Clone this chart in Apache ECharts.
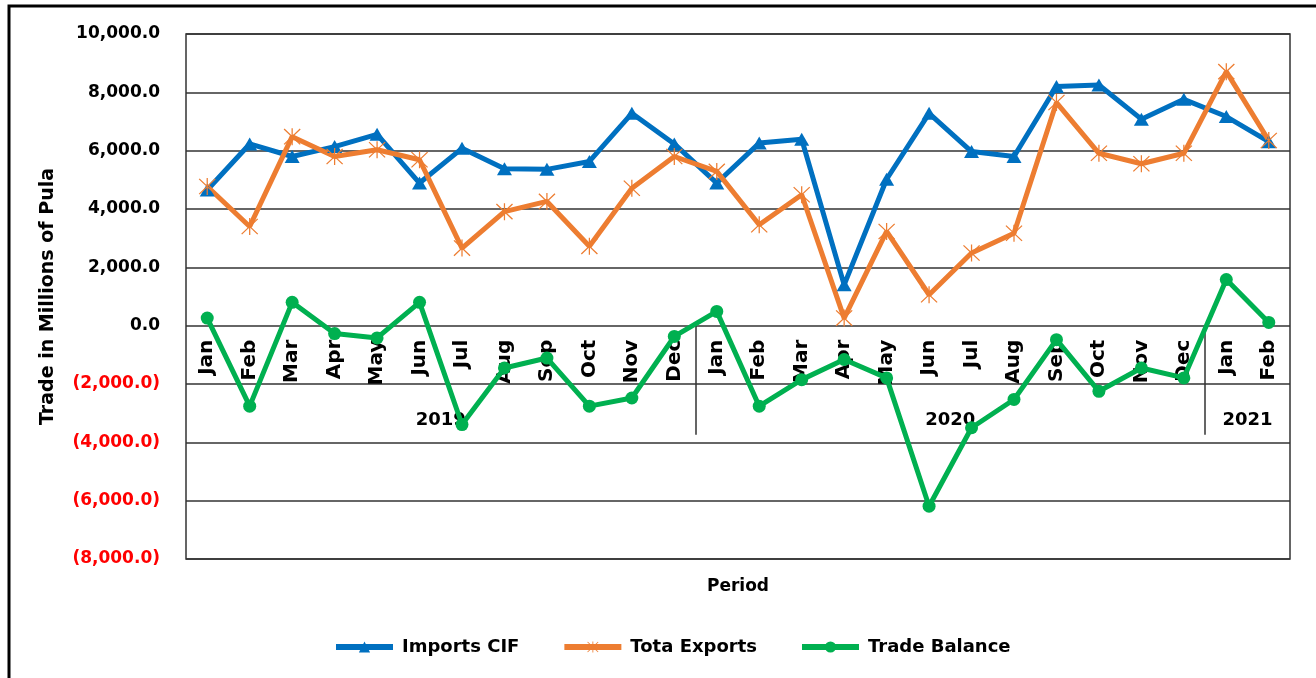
<!DOCTYPE html>
<html>
<head>
<meta charset="utf-8">
<script src="https://cdn.jsdelivr.net/npm/echarts@6/dist/echarts.min.js"></script>
<style>
  html, body { margin: 0; padding: 0; background: #fff; }
  #chart { width: 1316px; height: 678px; }
</style>
</head>
<body>
<div id="chart"></div>
<script>
// months Jan 2019 .. Feb 2021
const months = ['Jan','Feb','Mar','Apr','May','Jun','Jul','Aug','Sep','Oct','Nov','Dec',
                'Jan','Feb','Mar','Apr','May','Jun','Jul','Aug','Sep','Oct','Nov','Dec',
                'Jan','Feb'];
const years = ['2019', '2020', '2021'];
const yearMonths = [12, 12, 2];

const importsCIF = [4650, 6230, 5800, 6140, 6560, 4890, 6080, 5380, 5360, 5630, 7280, 6230,
                    4890, 6260, 6390, 1400, 5020, 7280, 5970, 5800, 8200, 8250, 7080, 7760,
                    7170, 6310];
const totaExports = [4770, 3400, 6480, 5800, 6030, 5690, 2660, 3910, 4260, 2720, 4710, 5800,
                     5290, 3460, 4490, 260, 3230, 1060, 2490, 3170, 7650, 5910, 5550, 5910,
                     8710, 6350];
const tradeBalance = [260, -2760, 800, -270, -420, 800, -3390, -1450, -1110, -2760, -2480, -370,
                      490, -2760, -1850, -1160, -1790, -6190, -3500, -2530, -480, -2250, -1450, -1790,
                      1580, 110];

// year bands: label in the middle, separator at the end of each year
let acc = 0;
const yearMid = [], yearEnd = [];
yearMonths.forEach(function (n) {
  yearMid.push(acc + n / 2);
  acc += n;
  yearEnd.push(acc);
});
yearEnd.pop();

const FONT = 'DejaVu Sans';
const Y_MIN = -8000, Y_MAX = 10000;
const GRID_TOP = 34, GRID_BOTTOM = 119, CHART_H = 678;
// the category axes sit on the zero line, pushed up from the grid bottom
const plotH = CHART_H - GRID_TOP - GRID_BOTTOM;
const zeroOffset = -plotH * (0 - Y_MIN) / (Y_MAX - Y_MIN);

const starPath = 'path://M9.3 0 L10.7 0 L10.7 20 L9.3 20 Z M0.5 1.5 L1.5 0.5 L19.5 18.5 L18.5 19.5 Z M18.5 0.5 L19.5 1.5 L1.5 19.5 L0.5 18.5 Z';

function fmt(v) {
  const s = Math.abs(v).toLocaleString('en-US', { minimumFractionDigits: 1, maximumFractionDigits: 1 });
  return v < 0 ? '(' + s + ')' : s;
}

const boldText = { fontFamily: FONT, fontWeight: 'bold', fontSize: 17, color: '#000' };

const chart = echarts.init(document.getElementById('chart'));
chart.setOption({
  animation: false,
  grid: {
    left: 186, right: 26, top: GRID_TOP, bottom: GRID_BOTTOM,
    containLabel: false, outerBoundsMode: 'none',
    show: true, borderColor: '#333', borderWidth: 1.5
  },
  graphic: [{
    type: 'rect',
    shape: { x: 9, y: 6, width: 1330, height: 700 },
    style: { fill: 'none', stroke: '#000', lineWidth: 3 },
    silent: true
  }],
  legend: {
    top: 633,
    left: 328,
    itemWidth: 57,
    itemHeight: 14,
    itemGap: 42,
    lineStyle: { width: 6 },
    textStyle: Object.assign({}, boldText, { fontSize: 18, padding: [0, 0, 0, 4] }),
    data: ['Imports CIF', 'Tota Exports', 'Trade Balance']
  },
  xAxis: [{
    type: 'category',
    data: months,
    boundaryGap: true,
    position: 'bottom',
    offset: zeroOffset,
    axisLine: { show: false, onZero: false },
    axisTick: { show: false },
    axisLabel: Object.assign({ rotate: 90, margin: 14, interval: 0 }, boldText, { fontSize: 20 }),
    name: 'Period',
    nameLocation: 'middle',
    nameGap: 252,
    nameTextStyle: boldText
  }, {
    type: 'value',
    min: 0, max: months.length,
    position: 'bottom',
    offset: zeroOffset,
    axisLine: { show: false, onZero: false },
    splitLine: { show: false },
    axisTick: {
      show: true, customValues: yearEnd, length: 109,
      lineStyle: { color: '#333', width: 1.5 }
    },
    axisLabel: Object.assign({
      customValues: yearMid, margin: 86,
      formatter: function (v) { return years[yearMid.indexOf(v)] || ''; }
    }, boldText, { fontSize: 18 })
  }],
  yAxis: {
    type: 'value',
    min: Y_MIN, max: Y_MAX, interval: 2000,
    axisLine: { show: false, onZero: false },
    axisTick: { show: false },
    splitLine: { lineStyle: { color: '#333', width: 1.5 } },
    axisLabel: {
      margin: 26,
      formatter: fmt,
      color: function (v) { return Number(v) < 0 ? '#ff0000' : '#000'; },
      fontFamily: FONT, fontWeight: 'bold', fontSize: 17
    },
    name: 'Trade in Millions of Pula',
    nameLocation: 'middle',
    nameGap: 128,
    nameTextStyle: Object.assign({}, boldText, { fontSize: 19 })
  },
  series: [{
    name: 'Imports CIF',
    type: 'line',
    data: importsCIF,
    symbol: 'triangle',
    symbolSize: [15, 13],
    lineStyle: { color: '#0070C0', width: 5 },
    itemStyle: { color: '#0070C0' }
  }, {
    name: 'Tota Exports',
    type: 'line',
    data: totaExports,
    symbol: starPath,
    symbolSize: 17,
    lineStyle: { color: '#ED7D31', width: 5 },
    itemStyle: { color: '#ED7D31' }
  }, {
    name: 'Trade Balance',
    type: 'line',
    data: tradeBalance,
    symbol: 'circle',
    symbolSize: 13,
    lineStyle: { color: '#00B050', width: 5 },
    itemStyle: { color: '#00B050' }
  }]
});
</script>
</body>
</html>
